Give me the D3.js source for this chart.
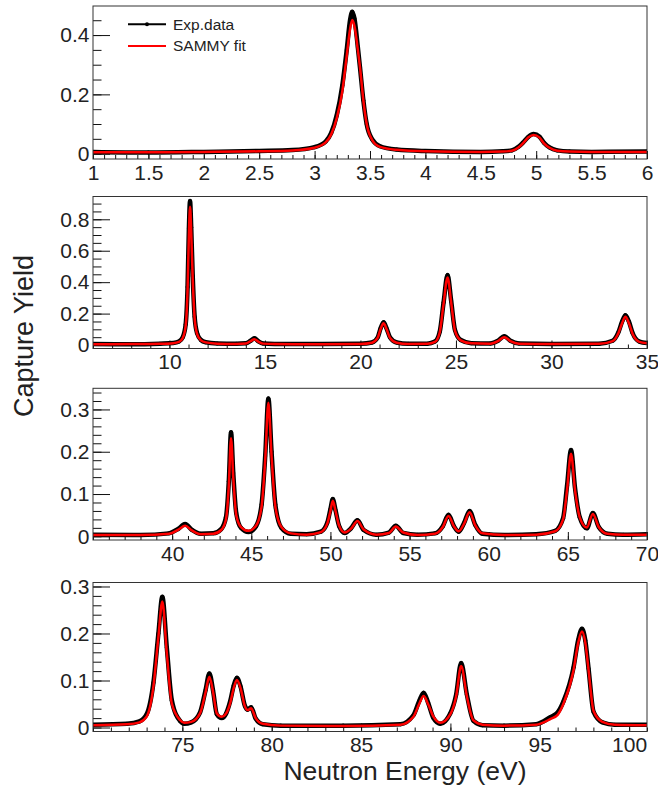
<!DOCTYPE html>
<html>
<head>
<meta charset="utf-8">
<script src="https://cdn.jsdelivr.net/npm/d3@7"></script>
<style>
  body { margin: 0; background: #fff; }
  svg text { font-family: "Liberation Sans", Arial, Helvetica, sans-serif; fill: #222; }
</style>
</head>
<body>
<svg id="drawing_region"></svg>
<script>
// ---- data ----
// panel 1 : 1 - 6 eV
const energy1 = [1.0, 1.5, 2.0, 2.5, 2.8, 3.0, 3.1, 3.15, 3.2, 3.25, 3.29, 3.32, 3.34, 3.36, 3.39, 3.41, 3.44, 3.47, 3.52, 3.59, 3.74, 4.0, 4.5, 4.7, 4.78, 4.84, 4.88, 4.93, 4.976, 5.03, 5.07, 5.12, 5.19, 5.3, 5.5, 6.0];
const fit1 = [0.005, 0.005, 0.006, 0.008, 0.011, 0.02, 0.038, 0.065, 0.12, 0.21, 0.33, 0.42, 0.451, 0.43, 0.35, 0.29, 0.18, 0.10, 0.046, 0.023, 0.013, 0.008, 0.006, 0.007, 0.01, 0.021, 0.035, 0.055, 0.063, 0.054, 0.035, 0.02, 0.01, 0.007, 0.006, 0.006];
const exp1 = [0.006, 0.004, 0.006, 0.009, 0.012, 0.022, 0.041, 0.07, 0.13, 0.23, 0.35, 0.45, 0.479, 0.455, 0.36, 0.29, 0.18, 0.10, 0.048, 0.025, 0.014, 0.009, 0.006, 0.008, 0.011, 0.023, 0.037, 0.057, 0.066, 0.057, 0.037, 0.021, 0.011, 0.007, 0.006, 0.007];

// panel 2 : 6 - 35 eV
const energy2 = [6, 8, 9.5, 10.2, 10.5, 10.7, 10.85, 10.95, 11.02, 11.08, 11.14, 11.22, 11.32, 11.45, 11.65, 11.9, 12.5, 13.5, 14.0, 14.25, 14.45, 14.65, 14.9, 15.5, 18, 20.0, 20.6, 20.9, 21.05, 21.21, 21.37, 21.55, 21.9, 22.5, 23.5, 23.9, 24.15, 24.35, 24.56, 24.75, 24.95, 25.25, 25.8, 26.8, 27.2, 27.53, 27.85, 28.3, 30, 32.5, 33.2, 33.5, 33.7, 33.87, 34.05, 34.25, 34.6, 35];
const fit2 = [0.005, 0.006, 0.008, 0.012, 0.02, 0.045, 0.12, 0.35, 0.7, 0.88, 0.72, 0.42, 0.17, 0.07, 0.03, 0.017, 0.009, 0.007, 0.01, 0.025, 0.037, 0.022, 0.009, 0.006, 0.005, 0.007, 0.015, 0.045, 0.1, 0.138, 0.1, 0.045, 0.015, 0.007, 0.008, 0.02, 0.08, 0.26, 0.43, 0.27, 0.09, 0.03, 0.011, 0.009, 0.025, 0.05, 0.025, 0.009, 0.006, 0.008, 0.025, 0.075, 0.14, 0.18, 0.14, 0.07, 0.02, 0.012];
const exp2 = [0.006, 0.005, 0.009, 0.013, 0.022, 0.05, 0.13, 0.37, 0.74, 0.917, 0.75, 0.44, 0.18, 0.075, 0.032, 0.018, 0.01, 0.008, 0.011, 0.027, 0.043, 0.024, 0.01, 0.007, 0.006, 0.008, 0.016, 0.048, 0.105, 0.145, 0.105, 0.048, 0.016, 0.008, 0.009, 0.022, 0.085, 0.27, 0.445, 0.28, 0.095, 0.032, 0.012, 0.01, 0.027, 0.056, 0.027, 0.01, 0.007, 0.009, 0.027, 0.08, 0.15, 0.19, 0.15, 0.075, 0.022, 0.013];

// panel 3 : 35 - 70 eV
const energy3 = [35, 38, 39.8, 40.4, 40.82, 41.25, 41.8, 42.6, 43.1, 43.4, 43.58, 43.72, 43.86, 44.05, 44.35, 44.82, 45.3, 45.65, 45.88, 46.08, 46.28, 46.52, 46.9, 47.5, 48.5, 49.4, 49.8, 50.0, 50.15, 50.32, 50.55, 50.9, 51.3, 51.71, 52.1, 52.9, 53.7, 54.13, 54.6, 55.5, 56.6, 57.1, 57.46, 57.8, 58.1, 58.45, 58.79, 59.15, 59.6, 61, 63, 64.2, 64.7, 64.95, 65.2, 65.45, 65.75, 66.2, 66.58, 66.95, 67.5, 68.5, 70];
const fit3 = [0.003, 0.003, 0.006, 0.016, 0.025, 0.014, 0.005, 0.006, 0.015, 0.04, 0.12, 0.232, 0.14, 0.05, 0.022, 0.013, 0.025, 0.07, 0.18, 0.316, 0.19, 0.07, 0.022, 0.007, 0.004, 0.01, 0.03, 0.06, 0.084, 0.06, 0.025, 0.009, 0.018, 0.036, 0.016, 0.004, 0.008, 0.023, 0.009, 0.003, 0.006, 0.022, 0.048, 0.024, 0.012, 0.03, 0.057, 0.026, 0.007, 0.003, 0.004, 0.012, 0.04, 0.11, 0.195, 0.11, 0.045, 0.021, 0.053, 0.022, 0.006, 0.004, 0.004];
const exp3 = [0.004, 0.003, 0.007, 0.018, 0.029, 0.015, 0.006, 0.007, 0.017, 0.045, 0.13, 0.246, 0.15, 0.055, 0.02, 0.01, 0.024, 0.075, 0.19, 0.326, 0.2, 0.075, 0.02, 0.006, 0.005, 0.011, 0.032, 0.064, 0.088, 0.062, 0.024, 0.008, 0.019, 0.038, 0.015, 0.004, 0.009, 0.025, 0.008, 0.004, 0.007, 0.024, 0.051, 0.024, 0.011, 0.032, 0.06, 0.027, 0.006, 0.003, 0.005, 0.013, 0.043, 0.12, 0.204, 0.115, 0.045, 0.019, 0.055, 0.022, 0.006, 0.004, 0.005];

// panel 4 : 70 - 101 eV
const energy4 = [70, 71.9, 72.6, 73.0, 73.38, 73.66, 73.88, 74.13, 74.41, 74.87, 75.1, 75.5, 75.99, 76.3, 76.51, 76.72, 76.93, 77.2, 77.45, 77.67, 77.88, 78.05, 78.25, 78.5, 78.65, 78.85, 79.1, 79.5, 80.5, 84, 87.2, 87.93, 88.25, 88.5, 88.75, 89.05, 89.43, 89.99, 90.32, 90.6, 90.92, 91.29, 91.8, 93, 94.8, 95.59, 96.0, 96.33, 96.89, 97.15, 97.36, 97.55, 97.73, 98.01, 98.5, 99.2, 101];
const fit4 = [0.005, 0.007, 0.011, 0.023, 0.087, 0.193, 0.268, 0.158, 0.051, 0.016, 0.01, 0.012, 0.03, 0.075, 0.108, 0.075, 0.03, 0.023, 0.03, 0.051, 0.085, 0.101, 0.085, 0.045, 0.037, 0.041, 0.02, 0.008, 0.004, 0.003, 0.006, 0.023, 0.05, 0.067, 0.05, 0.023, 0.01, 0.028, 0.066, 0.131, 0.066, 0.015, 0.006, 0.004, 0.006, 0.018, 0.027, 0.051, 0.122, 0.18, 0.204, 0.18, 0.122, 0.035, 0.012, 0.006, 0.005];
const exp4 = [0.006, 0.008, 0.013, 0.028, 0.095, 0.2, 0.278, 0.17, 0.058, 0.014, 0.008, 0.011, 0.032, 0.08, 0.115, 0.078, 0.028, 0.02, 0.03, 0.055, 0.09, 0.106, 0.088, 0.046, 0.038, 0.043, 0.019, 0.007, 0.004, 0.004, 0.007, 0.026, 0.056, 0.074, 0.053, 0.02, 0.008, 0.03, 0.07, 0.137, 0.07, 0.014, 0.005, 0.004, 0.007, 0.022, 0.032, 0.056, 0.128, 0.186, 0.21, 0.185, 0.125, 0.033, 0.011, 0.006, 0.006];

// tick labels
const xTicks1 = [1, 1.5, 2, 2.5, 3, 3.5, 4, 4.5, 5, 5.5, 6];
const xTicks2 = [10, 15, 20, 25, 30, 35];
const xTicks3 = [40, 45, 50, 55, 60, 65, 70];
const xTicks4 = [75, 80, 85, 90, 95, 100];
const yTicks1 = [0, 0.2, 0.4];
const yTicks2 = [0, 0.2, 0.4, 0.6, 0.8];
const yTicks3 = [0, 0.1, 0.2, 0.3];
const yTicks4 = [0, 0.1, 0.2, 0.3];

const legendLabels = ['Exp.data', 'SAMMY fit'];
const xTitle = 'Neutron Energy (eV)';
const yTitle = 'Capture Yield';

// ---- layout ----
const W = 658, H = 790;
const left = 93, right = 647;

const panels = [
    { top: 6,     bottom: 159,   x: [1, 6],    y: [-0.018, 0.498], xMinor: 0.1, yMinor: 0.05, xt: xTicks1, yt: yTicks1, e: energy1, fit: fit1, exp: exp1 },
    { top: 196.5, bottom: 348.5, x: [6, 35],   y: [-0.022, 0.945], xMinor: 1,   yMinor: 0.05, xt: xTicks2, yt: yTicks2, e: energy2, fit: fit2, exp: exp2 },
    { top: 388.3, bottom: 540,   x: [35, 70],  y: [-0.0087, 0.35], xMinor: 1,   yMinor: 0.02, xt: xTicks3, yt: yTicks3, e: energy3, fit: fit3, exp: exp3 },
    { top: 582.5, bottom: 731.5, x: [70, 101], y: [-0.0085, 0.3085], xMinor: 1, yMinor: 0.02, xt: xTicks4, yt: yTicks4, e: energy4, fit: fit4, exp: exp4 }
];

const svg = d3.select('#drawing_region')
    .attr('width', W)
    .attr('height', H);

panels.forEach( (p, i) => {
    const xscale = d3.scaleLinear().domain(p.x).range([left, right]);
    const yscale = d3.scaleLinear().domain(p.y).range([p.bottom, p.top]);

    const g = svg.append('g');

    g.append('clipPath')
        .attr('id', 'clip' + i)
        .append('rect')
        .attr('x', left).attr('y', p.top)
        .attr('width', right - left).attr('height', p.bottom - p.top);

    // minor ticks
    const xminor = d3.range(p.x[0], p.x[1] + 1e-9, p.xMinor).map(v => +v.toFixed(3));
    const yminor = d3.range(Math.ceil(p.y[0] / p.yMinor) * p.yMinor, p.y[1], p.yMinor).map(v => +v.toFixed(3));

    g.append('g')
        .attr('transform', `translate(0, ${p.bottom})`)
        .call( d3.axisBottom(xscale).tickValues(xminor).tickSizeInner(-4).tickSizeOuter(0).tickFormat('') )
        .call( a => a.select('.domain').remove() );

    g.append('g')
        .attr('transform', `translate(${left}, 0)`)
        .call( d3.axisLeft(yscale).tickValues(yminor).tickSizeInner(-8.5).tickSizeOuter(0).tickFormat('') )
        .call( a => a.select('.domain').remove() );

    // major ticks + labels
    g.append('g')
        .attr('transform', `translate(0, ${p.bottom})`)
        .call( d3.axisBottom(xscale).tickValues(p.xt).tickSizeInner(-8).tickSizeOuter(0).tickPadding(6).tickFormat(d3.format('~g')) )
        .call( a => a.select('.domain').remove() )
        .call( a => a.selectAll('text').attr('font-size', '21px').attr('font-family', null) );

    g.append('g')
        .attr('transform', `translate(${left}, 0)`)
        .call( d3.axisLeft(yscale).tickValues(p.yt).tickSizeInner(-17).tickSizeOuter(0).tickPadding(3.5).tickFormat(d3.format('~g')) )
        .call( a => a.select('.domain').remove() )
        .call( a => a.selectAll('text').attr('font-size', '21px').attr('font-family', null) );

    g.selectAll('.tick line').attr('stroke', '#111');

    const pts = p.e.map( (e, k) => ({ e: e, fit: p.fit[k], exp: p.exp[k] }) );

    const expLine = d3.line().x(d => xscale(d.e)).y(d => yscale(d.exp)).curve(d3.curveMonotoneX);
    const fitLine = d3.line().x(d => xscale(d.e)).y(d => yscale(d.fit)).curve(d3.curveMonotoneX);

    const plot = g.append('g').attr('clip-path', `url(#clip${i})`);

    plot.append('path')
        .datum(pts)
        .attr('d', expLine)
        .attr('fill', 'none')
        .attr('stroke', '#000')
        .attr('stroke-width', 4.5)
        .attr('stroke-linejoin', 'round');

    plot.selectAll('circle')
        .data(pts)
        .enter()
        .append('circle')
        .attr('cx', d => xscale(d.e))
        .attr('cy', d => yscale(d.exp))
        .attr('r', 2)
        .attr('fill', '#000');

    plot.append('path')
        .datum(pts)
        .attr('d', fitLine)
        .attr('fill', 'none')
        .attr('stroke', '#ff0000')
        .attr('stroke-width', 2.5)
        .attr('stroke-linejoin', 'round');

    // frame
    g.append('rect')
        .attr('x', left).attr('y', p.top)
        .attr('width', right - left).attr('height', p.bottom - p.top)
        .attr('fill', 'none')
        .attr('stroke', '#333')
        .attr('stroke-width', 1);
});

// legend
const legend = svg.append('g');
legend.append('line')
    .attr('x1', 128).attr('x2', 166).attr('y1', 24.3).attr('y2', 24.3)
    .attr('stroke', '#000').attr('stroke-width', 2);
legend.append('circle')
    .attr('cx', 147).attr('cy', 24.3).attr('r', 2).attr('fill', '#000');
legend.append('line')
    .attr('x1', 128).attr('x2', 166).attr('y1', 46).attr('y2', 46)
    .attr('stroke', '#ff0000').attr('stroke-width', 2);
legend.selectAll('text')
    .data(legendLabels)
    .enter()
    .append('text')
    .attr('x', 173)
    .attr('y', (d, i) => 24.3 + i * 21.7)
    .attr('dy', '0.35em')
    .attr('font-size', '15.5px')
    .text(d => d);

// axis titles
svg.append('text')
    .attr('x', 405)
    .attr('y', 780)
    .attr('text-anchor', 'middle')
    .attr('font-size', '26.5px')
    .text(xTitle);

svg.append('text')
    .attr('transform', 'translate(33, 336) rotate(-90)')
    .attr('text-anchor', 'middle')
    .attr('font-size', '27px')
    .text(yTitle);
</script>
</body>
</html>
